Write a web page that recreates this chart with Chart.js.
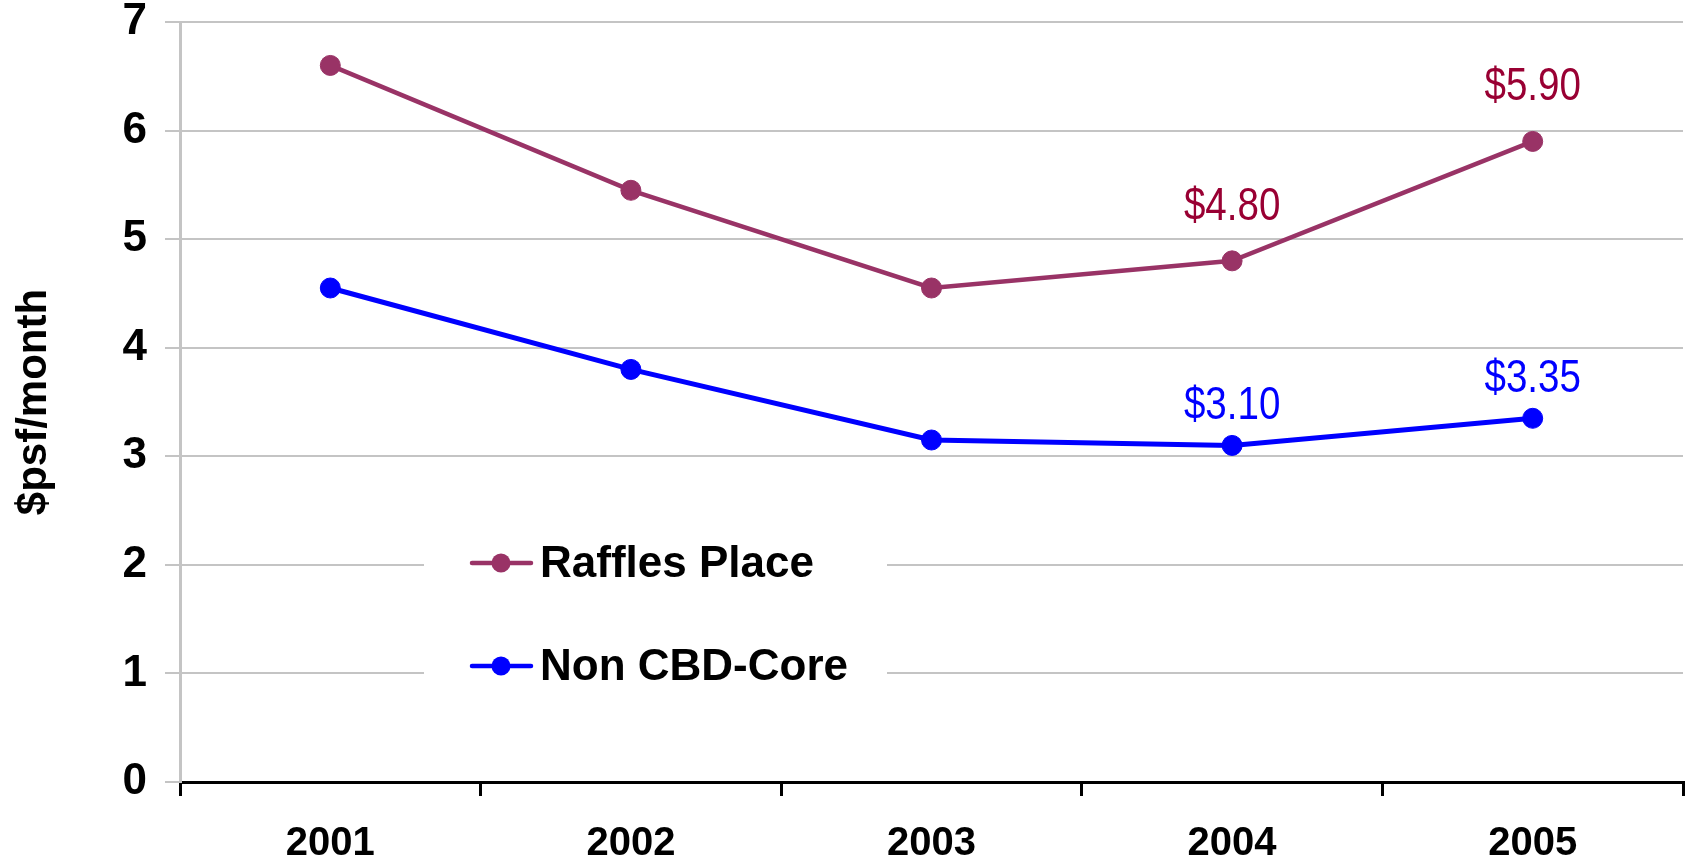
<!DOCTYPE html>
<html>
<head>
<meta charset="utf-8">
<script src="https://cdn.jsdelivr.net/npm/chart.js@4.4.1/dist/chart.umd.min.js"></script>
<style>
  html, body { margin: 0; padding: 0; background: #fff; }
  #wrap { width: 1694px; height: 860px; position: relative; }
</style>
</head>
<body>
<div id="wrap"><canvas id="c" width="1694" height="860"></canvas></div>
<script>
// Office rents, $ per square foot per month
const years = ['2001', '2002', '2003', '2004', '2005'];
const rafflesPlace = [6.60, 5.45, 4.55, 4.80, 5.90];
const nonCbdCore = [4.55, 3.80, 3.15, 3.10, 3.35];
const seriesNames = ['Raffles Place', 'Non CBD-Core'];
const yMin = 0, yMax = 7, yStep = 1;
const labeledYears = ['2004', '2005'];

const BOLD = '"Liberation Sans", Arial, Helvetica, sans-serif';

// Value labels above selected points, drawn in a condensed face
const valueLabels = {
  id: 'valueLabels',
  afterDatasetsDraw(chart) {
    const ctx = chart.ctx;
    chart.data.datasets.forEach((ds, di) => {
      const meta = chart.getDatasetMeta(di);
      chart.data.labels.forEach((lab, i) => {
        if (!labeledYears.includes(lab)) return;
        const pt = meta.data[i];
        ctx.save();
        ctx.translate(pt.x, pt.y - ds.valueLift);
        ctx.scale(0.82, 1);
        ctx.font = '47px ' + BOLD;
        ctx.textAlign = 'center';
        ctx.textBaseline = 'middle';
        ctx.fillStyle = ds.valueColor;
        ctx.fillText('$' + ds.data[i].toFixed(2), 0, 0);
        ctx.restore();
      });
    });
  }
};

// Legend drawn inside the plot area
const insetLegend = {
  id: 'insetLegend',
  afterDraw(chart) {
    const ctx = chart.ctx;
    ctx.save();
    ctx.fillStyle = '#ffffff';
    ctx.fillRect(424, 505, 463, 215);
    ctx.font = 'bold 44px ' + BOLD;
    ctx.textBaseline = 'middle';
    ctx.textAlign = 'left';
    const rows = [563, 666];
    chart.data.datasets.forEach((ds, di) => {
      const cy = rows[di];
      ctx.strokeStyle = ds.borderColor;
      ctx.lineWidth = 4.5;
      ctx.lineCap = 'round';
      ctx.beginPath();
      ctx.moveTo(472, cy);
      ctx.lineTo(531, cy);
      ctx.stroke();
      ctx.fillStyle = ds.pointBackgroundColor;
      ctx.beginPath();
      ctx.arc(501, cy, 9.5, 0, Math.PI * 2);
      ctx.fill();
      ctx.fillStyle = '#000';
      ctx.fillText(ds.label, 540, cy + 2);
    });
    ctx.restore();
  }
};

new Chart(document.getElementById('c'), {
  type: 'line',
  data: {
    labels: years,
    datasets: [
      {
        label: seriesNames[0],
        data: rafflesPlace,
        borderColor: '#993366',
        backgroundColor: '#993366',
        pointBackgroundColor: '#993366',
        pointBorderColor: '#993366',
        borderWidth: 4.5,
        pointRadius: 10,
        pointBorderWidth: 1,
        tension: 0,
        valueColor: '#990033',
        valueLift: 54
      },
      {
        label: seriesNames[1],
        data: nonCbdCore,
        borderColor: '#0000ff',
        backgroundColor: '#0000ff',
        pointBackgroundColor: '#0000ff',
        pointBorderColor: '#0000ff',
        borderWidth: 5,
        pointRadius: 10,
        pointBorderWidth: 1,
        tension: 0,
        valueColor: '#0000ff',
        valueLift: 39
      }
    ]
  },
  options: {
    responsive: false,
    animation: false,
    layout: { padding: { top: 22, right: 6, left: 0, bottom: 0 } },
    plugins: {
      legend: { display: false },
      tooltip: { enabled: false }
    },
    scales: {
      x: {
        offset: true,
        grid: {
          offset: true,
          drawOnChartArea: false,
          drawTicks: true,
          tickLength: 14,
          color: '#000',
          lineWidth: 3
        },
        border: { display: true, color: '#000', width: 3 },
        ticks: {
          color: '#000',
          font: { family: BOLD, size: 40, weight: 'bold' },
          padding: 24,
          maxRotation: 0
        },
        afterFit(scale) {
          scale.height = 78;
          scale.paddingLeft = 0;
          scale.paddingRight = 0;
        }
      },
      y: {
        min: yMin,
        max: yMax,
        grid: {
          color: '#c4c4c4',
          lineWidth: 2,
          drawTicks: true,
          tickLength: 15
        },
        border: { display: true, color: '#c4c4c4', width: 3 },
        ticks: {
          stepSize: yStep,
          color: '#000',
          font: { family: BOLD, size: 44, weight: 'bold' },
          padding: 18
        },
        title: {
          display: true,
          text: '$psf/month',
          color: '#000',
          font: { family: BOLD, size: 42, weight: 'bold' },
          padding: { top: 9, bottom: 0 }
        },
        afterFit(scale) {
          scale.width = 180;
          scale.paddingTop = 0;
          scale.paddingBottom = 0;
        }
      }
    }
  },
  plugins: [valueLabels, insetLegend]
});
</script>
</body>
</html>
